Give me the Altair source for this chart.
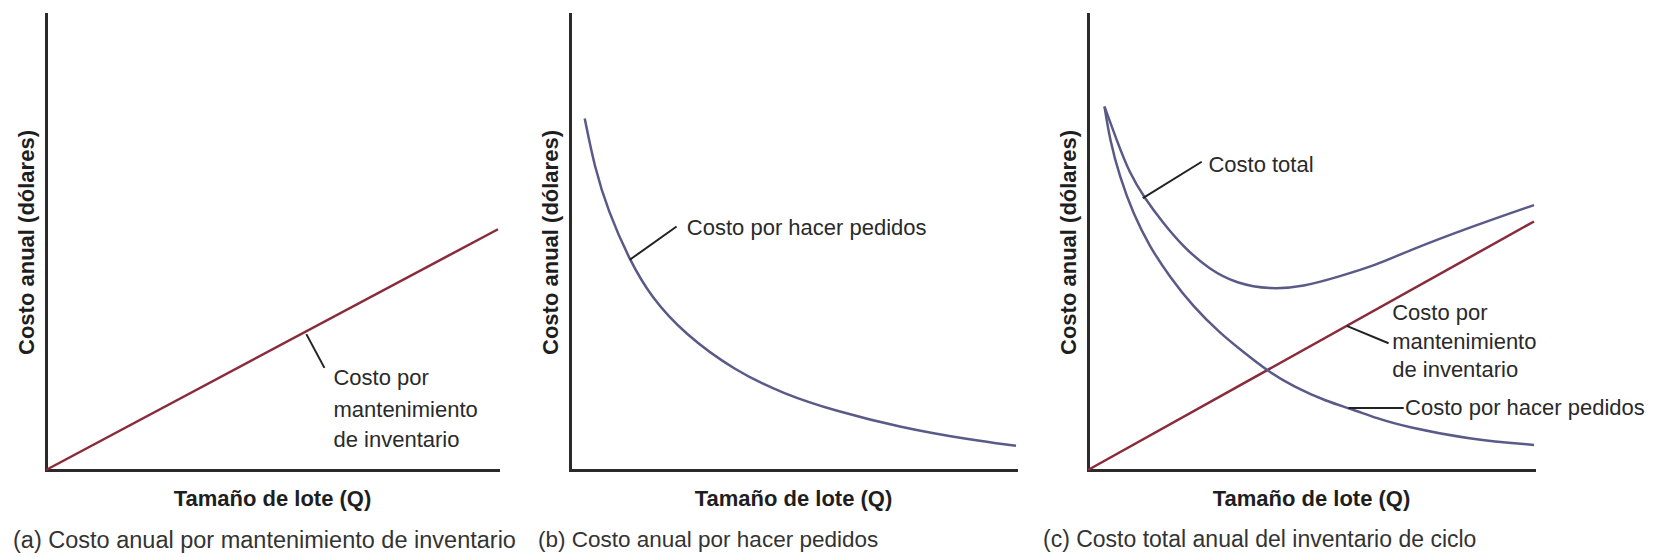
import altair as alt
import pandas as pd

FONT = "Liberation Sans"

# ---------------- data (x: lot size 0..1, y: annual cost 0..1)
# Panel (a): holding (carrying) cost
a_q = [0.0, 1.0]
a_carry = [0.0, 0.528]

# Panel (b): ordering cost
b_q = [0.033, 0.055, 0.085, 0.134, 0.182, 0.257, 0.369, 0.481, 0.593, 0.742, 0.892, 1.0]
b_order = [0.771, 0.664, 0.569, 0.459, 0.379, 0.298, 0.218, 0.166, 0.130, 0.093, 0.067, 0.053]

# Panel (c): total, holding and ordering cost
c_carry_q = [0.0, 1.0]
c_carry = [0.0, 0.545]
c_total_q = [0.037, 0.064, 0.093, 0.127, 0.169, 0.213, 0.273, 0.333, 0.408, 0.483,
             0.562, 0.648, 0.711, 0.861, 1.0]
c_total = [0.797, 0.724, 0.651, 0.596, 0.541, 0.490, 0.439, 0.409, 0.396, 0.402,
           0.424, 0.450, 0.478, 0.534, 0.581]
c_order_q = [0.037, 0.049, 0.071, 0.101, 0.138, 0.183, 0.236, 0.296, 0.348, 0.404,
             0.461, 0.536, 0.588, 0.648, 0.711, 0.861, 1.0]
c_order = [0.797, 0.724, 0.643, 0.563, 0.490, 0.424, 0.358, 0.300, 0.259, 0.216,
           0.183, 0.150, 0.135, 0.113, 0.095, 0.066, 0.055]

# leader lines (x1, y1, x2, y2) and labels (x, y, text)
a_leaders = [(0.576, 0.298, 0.616, 0.224)]
a_labels = [(0.636, 0.202, "Costo por"), (0.636, 0.132, "mantenimiento"),
            (0.636, 0.065, "de inventario")]

b_leaders = [(0.134, 0.461, 0.239, 0.534)]
b_labels = [(0.262, 0.531, "Costo por hacer pedidos")]

c_leaders = [(0.123, 0.596, 0.255, 0.676), (0.580, 0.316, 0.674, 0.278),
             (0.584, 0.136, 0.708, 0.136)]
c_labels = [(0.270, 0.669, "Costo total"), (0.682, 0.344, "Costo por"),
            (0.682, 0.280, "mantenimiento"), (0.682, 0.219, "de inventario"),
            (0.711, 0.137, "Costo por hacer pedidos")]

captions = ["(a) Costo anual por mantenimiento de inventario",
            "(b) Costo anual por hacer pedidos",
            "(c) Costo total anual del inventario de ciclo"]

X_TITLE = "Tamaño de lote (Q)"
Y_TITLE = "Costo anual (dólares)"

RED = "#8a2b3b"
SLATE = "#5a5a88"

sx = alt.Scale(domain=[0, 1], nice=False, zero=False)
sy = alt.Scale(domain=[0, 1], nice=False, zero=False)

ax_x = alt.Axis(title=X_TITLE, labels=False, ticks=False, grid=False, titlePadding=18,
                titleFontSize=22, titleFontWeight="bold", titleFont=FONT,
                titleColor="#1e1e1e", domainColor="#2a2a2a", domainWidth=3)
ax_y = alt.Axis(title=Y_TITLE, labels=False, ticks=False, grid=False, titlePadding=8,
                titleFontSize=22, titleFontWeight="bold", titleFont=FONT,
                titleColor="#1e1e1e", domainColor="#2a2a2a", domainWidth=3)


def panel(series, leaders, labels, width, caption, dx, cap_size):
    layers = []
    for q, v, col in series:
        df = pd.DataFrame({"q": q, "v": v})
        layers.append(
            alt.Chart(df).mark_line(color=col, strokeWidth=2.5, interpolate="basis").encode(
                x=alt.X("q:Q", scale=sx, axis=ax_x),
                y=alt.Y("v:Q", scale=sy, axis=ax_y),
            )
        )
    ld = pd.DataFrame(leaders, columns=["x1", "y1", "x2", "y2"])
    layers.append(
        alt.Chart(ld).mark_rule(color="#222222", strokeWidth=2).encode(
            x=alt.X("x1:Q", scale=sx, axis=ax_x),
            y=alt.Y("y1:Q", scale=sy, axis=ax_y),
            x2=alt.X2("x2"),
            y2=alt.Y2("y2"),
        )
    )
    tl = pd.DataFrame(labels, columns=["x", "y", "label"])
    layers.append(
        alt.Chart(tl).mark_text(align="left", baseline="middle", fontSize=22, font=FONT,
                                color="#2a2a2a").encode(
            x=alt.X("x:Q", scale=sx, axis=ax_x),
            y=alt.Y("y:Q", scale=sy, axis=ax_y),
            text="label:N",
        )
    )
    return alt.layer(*layers).properties(
        width=width,
        height=456,
        title=alt.TitleParams(caption, orient="bottom", anchor="start", frame="group",
                              dx=dx, offset=20, fontSize=cap_size, font=FONT,
                              fontWeight="normal", color="#333333", baseline="top"),
    )


pa = panel([(a_q, a_carry, RED)], a_leaders, a_labels, 452, captions[0], -33, 23.5)
pb = panel([(b_q, b_order, SLATE)], b_leaders, b_labels, 446, captions[1], -32, 22.5)
pc = panel([(c_carry_q, c_carry, RED), (c_order_q, c_order, SLATE), (c_total_q, c_total, SLATE)],
           c_leaders, c_labels, 446, captions[2], -45, 23)

chart = alt.hconcat(pa, pb, pc, spacing=72, bounds="flush").properties(
    padding={"left": 5, "top": 6, "right": 2, "bottom": 0}
).configure_view(stroke=None).configure_axis(domainCap="square")

chart.save("out.html", embed_options={"renderer": "svg", "actions": False})
